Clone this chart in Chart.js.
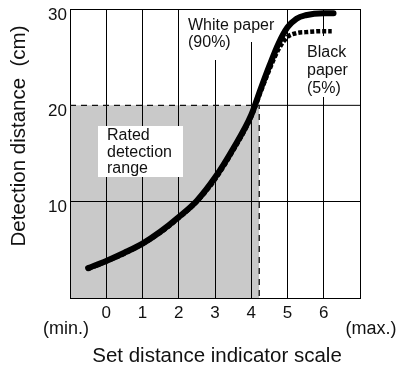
<!DOCTYPE html>
<html>
<head>
<meta charset="utf-8">
<script src="https://cdn.jsdelivr.net/npm/chart.js@4/dist/chart.umd.min.js"></script>
<style>
  html, body { margin: 0; padding: 0; background: #fff; }
  #wrap { width: 398px; height: 370px; }
</style>
</head>
<body>
<div id="wrap"><canvas id="c" width="398" height="370"></canvas></div>
<script>
// values
const whiteX = [-0.5, 0, 0.5, 1, 1.5, 2, 2.5, 3, 3.5, 4, 4.25, 4.5, 4.75, 5, 5.25, 5.5, 6, 6.27];
const whiteY = [3.1, 3.85, 4.7, 5.65, 6.9, 8.4, 10.1, 12.5, 15.5, 19.0, 21.6, 24.1, 26.4, 28.1, 29.0, 29.35, 29.55, 29.55];
const blackX = [-0.5, 0, 0.5, 1, 1.5, 2, 2.5, 3, 3.5, 4, 4.25, 4.5, 4.75, 5, 5.25, 5.5, 6, 6.22];
const blackY = [3.0, 3.8, 4.6, 5.6, 6.8, 8.3, 10.0, 12.3, 15.3, 18.8, 21.3, 23.7, 25.8, 27.1, 27.5, 27.6, 27.7, 27.7];
const rangeX = [-1, 4.22, 4.22];
const rangeY = [20, 20, 0];
const grid20X = [4.22, 7];
const grid20Y = [20, 20];
const xTicks = [0, 1, 2, 3, 4, 5, 6];
const yTicks = [10, 20, 30];

const FONT = '"Liberation Sans", Arial, sans-serif';
Chart.defaults.font.family = FONT;

const pts = (xs, ys) => xs.map((x, i) => ({ x: x, y: ys[i] }));

const textPlugin = {
    id: 'textPlugin',
    beforeDatasetsDraw(chart) {
        const ctx = chart.ctx;
        ctx.save();
        ctx.fillStyle = '#fff';
        // white backing boxes behind the notes
        ctx.fillRect(98, 126, 85, 51);
        ctx.fillRect(186, 10, 90, 32);
        ctx.fillRect(186, 42, 44, 18);
        ctx.fillRect(304, 36, 44, 61);
        ctx.fillStyle = '#111';
        ctx.textAlign = 'left';
        ctx.textBaseline = 'alphabetic';
        ctx.font = '16px ' + FONT;
        ctx.fillText('Rated', 107, 140);
        ctx.fillText('detection', 107, 157);
        ctx.fillText('range', 107, 173);
        ctx.fillText('White paper', 188, 30);
        ctx.fillText('(90%)', 188, 46.5);
        ctx.fillText('Black', 307, 57);
        ctx.fillText('paper', 307, 75);
        ctx.fillText('(5%)', 307, 93);
        ctx.restore();
    },
    afterDraw(chart) {
        const ctx = chart.ctx;
        const xs = chart.scales.x, ys = chart.scales.y;
        ctx.save();
        ctx.fillStyle = '#111';
        ctx.font = '17px ' + FONT;
        ctx.textBaseline = 'middle';
        ctx.textAlign = 'right';
        yTicks.forEach(v => ctx.fillText(String(v), 67, ys.getPixelForValue(v) + 6));
        ctx.textAlign = 'center';
        xTicks.forEach(v => ctx.fillText(String(v), xs.getPixelForValue(v), 313));
        ctx.font = '18px ' + FONT;
        ctx.fillText('(min.)', 66, 329);
        ctx.fillText('(max.)', 371, 329);
        ctx.font = '20.5px ' + FONT;
        ctx.fillText('Set distance indicator scale', 217, 356);
        ctx.translate(19, 136);
        ctx.rotate(-Math.PI / 2);
        ctx.fillText('Detection distance  (cm)', 0, 0);
        ctx.restore();
    }
};

new Chart(document.getElementById('c').getContext('2d'), {
    type: 'line',
    plugins: [textPlugin],
    data: {
        datasets: [{
            // rated detection range
            data: pts(rangeX, rangeY),
            borderColor: '#111',
            borderWidth: 1.3,
            borderDash: [6, 5],
            backgroundColor: '#c9c9c9',
            fill: 'origin',
            pointRadius: 0,
            tension: 0,
        }, {
            data: pts(grid20X, grid20Y),
            borderColor: '#000',
            borderWidth: 1,
            pointRadius: 0,
            fill: false,
        }, {
            // white paper (90%)
            data: pts(whiteX, whiteY),
            borderColor: '#000',
            borderWidth: 6,
            borderCapStyle: 'round',
            pointRadius: 0,
            fill: false,
            cubicInterpolationMode: 'monotone',
        }, {
            // black paper (5%)
            data: pts(blackX, blackY),
            borderColor: '#000',
            borderWidth: 4.5,
            borderDash: [4, 2],
            pointRadius: 0,
            fill: false,
            cubicInterpolationMode: 'monotone',
        }]
    },
    options: {
        responsive: false,
        animation: false,
        events: [],
        layout: { padding: { left: 0, top: 9, right: 38, bottom: 0 } },
        plugins: {
            legend: { display: false },
            tooltip: { enabled: false },
            filler: { drawTime: 'beforeDraw' },
        },
        scales: {
            x: {
                type: 'linear',
                min: -1,
                max: 7,
                ticks: { display: false, stepSize: 1 },
                grid: { color: '#000', lineWidth: 1, drawTicks: false },
                border: { color: '#000', width: 1 },
                afterFit: s => { s.height = 72; },
            },
            y: {
                min: 0,
                max: 30,
                ticks: { display: false, stepSize: 10 },
                grid: {
                    color: c => (c.tick && c.tick.value === 20) ? 'rgba(0,0,0,0)' : '#000',
                    lineWidth: 1,
                    drawTicks: false,
                },
                border: { color: '#000', width: 1 },
                afterFit: s => { s.width = 70; },
            }
        }
    }
});
</script>
</body>
</html>
